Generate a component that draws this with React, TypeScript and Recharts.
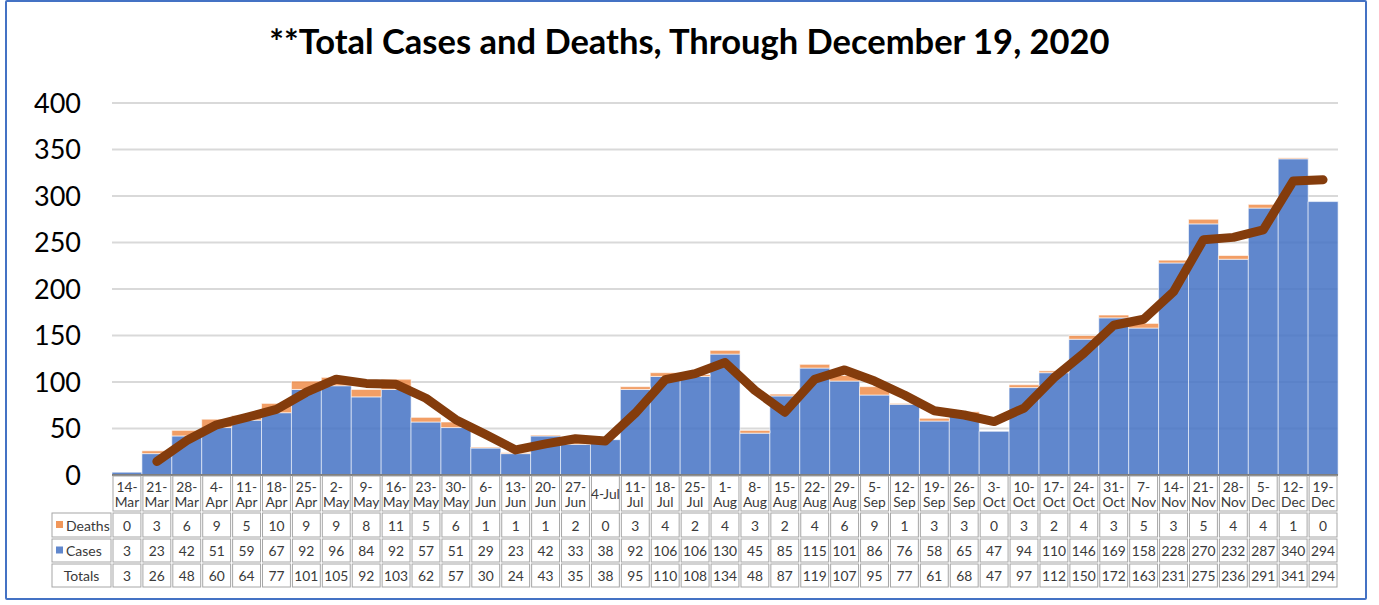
import { ComposedChart, Bar, Line, XAxis, YAxis, CartesianGrid } from 'recharts';

const categories = [
  '14-Mar', '21-Mar', '28-Mar', '4-Apr', '11-Apr', '18-Apr', '25-Apr', '2-May', '9-May', '16-May',
  '23-May', '30-May', '6-Jun', '13-Jun', '20-Jun', '27-Jun', '4-Jul', '11-Jul', '18-Jul', '25-Jul',
  '1-Aug', '8-Aug', '15-Aug', '22-Aug', '29-Aug', '5-Sep', '12-Sep', '19-Sep', '26-Sep', '3-Oct',
  '10-Oct', '17-Oct', '24-Oct', '31-Oct', '7-Nov', '14-Nov', '21-Nov', '28-Nov', '5-Dec', '12-Dec', '19-Dec',
];
const deaths = [0, 3, 6, 9, 5, 10, 9, 9, 8, 11, 5, 6, 1, 1, 1, 2, 0, 3, 4, 2, 4, 3, 2, 4, 6, 9, 1, 3, 3, 0, 3, 2, 4, 3, 5, 3, 5, 4, 4, 1, 0];
const cases = [3, 23, 42, 51, 59, 67, 92, 96, 84, 92, 57, 51, 29, 23, 42, 33, 38, 92, 106, 106, 130, 45, 85, 115, 101, 86, 76, 58, 65, 47, 94, 110, 146, 169, 158, 228, 270, 232, 287, 340, 294];
const totals = [3, 26, 48, 60, 64, 77, 101, 105, 92, 103, 62, 57, 30, 24, 43, 35, 38, 95, 110, 108, 134, 48, 87, 119, 107, 95, 77, 61, 68, 47, 97, 112, 150, 172, 163, 231, 275, 236, 291, 341, 294];
// brown trend line (2-week moving average as drawn)
const trend = [null, 14.5, 37, 54, 62, 70.5, 89, 103, 98.5, 97.5, 82.5, 59.5, 43.5, 27, 33.5, 39, 36.5, 66.5, 102.5, 109, 121, 91, 67.5, 103, 113, 101, 86, 69, 64.5, 57.5, 72, 104.5, 131, 161, 167.5, 197, 253, 255.5, 263.5, 316, 317.5];
const yTicks = [0, 50, 100, 150, 200, 250, 300, 350, 400];

const data = categories.map((week, i) => ({
  week,
  cases: cases[i],
  deaths: deaths[i],
  trend: trend[i],
}));

const FONT = 'Lato, "Open Sans", sans-serif';
const CHART_W = 1379;
const CHART_H = 605;
const M = { top: 103, right: 41, bottom: 15, left: 0 };
const Y_W = 112;
const COL_W = (CHART_W - M.left - M.right - Y_W) / categories.length;
const ROWS = [37, 26, 25, 25];
const CELL_STROKE = '#a6a6a6';
const TXT = '#3a3a3a';

const Cell = ({ x, y, w, h }: { x: number; y: number; w: number; h: number }) => (
  <rect x={x + 1} y={y + 1} width={w - 2} height={h - 2} fill="#fff" stroke={CELL_STROKE} strokeWidth={1} />
);

const TableTick = (props: any) => {
  const { x, y, payload } = props;
  const i = payload.index;
  const left = x - COL_W / 2;
  const label: string = payload.value;
  const parts = label === '4-Jul' ? [label] : [label.split('-')[0] + '-', label.split('-')[1]];
  const r1 = y + ROWS[0];
  const r2 = r1 + ROWS[1];
  const r3 = r2 + ROWS[2];
  const vals = [deaths[i], cases[i], totals[i]];
  const tops = [r1, r2, r3];
  const hdrW = 61;
  const hx = left - hdrW;
  return (
    <g fontFamily={FONT} fontSize={13.8} fill={TXT}>
      <Cell x={left} y={y} w={COL_W} h={ROWS[0]} />
      {parts.length === 1 ? (
        <text x={x} y={y + ROWS[0] / 2} textAnchor="middle" dominantBaseline="central" fill={TXT}>{parts[0]}</text>
      ) : (
        <>
          <text x={x} y={y + 11} textAnchor="middle" dominantBaseline="central" fill={TXT}>{parts[0]}</text>
          <text x={x} y={y + 26} textAnchor="middle" dominantBaseline="central" fill={TXT}>{parts[1]}</text>
        </>
      )}
      {vals.map((v, k) => (
        <g key={k}>
          <Cell x={left} y={tops[k]} w={COL_W} h={ROWS[k + 1]} />
          <text x={x} y={tops[k] + ROWS[k + 1] / 2} textAnchor="middle" dominantBaseline="central" fill={TXT}>{v}</text>
        </g>
      ))}
      {i === 0 && (
        <g fontSize={14}>
          <Cell x={hx} y={r1} w={hdrW} h={ROWS[1]} />
          <rect x={hx + 5} y={r1 + ROWS[1] / 2 - 4} width={7} height={7} fill="#ED7D31" fillOpacity={0.8} />
          <text x={hx + 15} y={r1 + ROWS[1] / 2} dominantBaseline="central" fill={TXT}>Deaths</text>
          <Cell x={hx} y={r2} w={hdrW} h={ROWS[2]} />
          <rect x={hx + 5} y={r2 + ROWS[2] / 2 - 4} width={7} height={7} fill="#4472C4" fillOpacity={0.85} />
          <text x={hx + 15} y={r2 + ROWS[2] / 2} dominantBaseline="central" fill={TXT}>Cases</text>
          <Cell x={hx} y={r3} w={hdrW} h={ROWS[3]} />
          <text x={hx + hdrW / 2} y={r3 + ROWS[3] / 2} textAnchor="middle" dominantBaseline="central" fill={TXT}>Totals</text>
        </g>
      )}
    </g>
  );
};

export default function App() {
  return (
    <div style={{ position: 'absolute', left: 0, top: 0, width: CHART_W, height: CHART_H, background: '#fff' }}>
      <div
        style={{
          position: 'absolute', left: 5, top: 0, width: 1362, height: 600,
          border: '2px solid #4472C4', borderRadius: 2, boxSizing: 'border-box',
        }}
      />
      <div
        style={{
          position: 'absolute', left: 0, top: 21, width: CHART_W, textAlign: 'center',
          fontFamily: FONT, fontWeight: 700, fontSize: 34.5, color: '#000', lineHeight: '40px',
        }}
      >
        **Total Cases and Deaths, Through December 19, 2020
      </div>
      <ComposedChart width={CHART_W} height={CHART_H} data={data} margin={M} barCategoryGap={0} barGap={0}>
        <CartesianGrid vertical={false} stroke="#d9d9d9" strokeWidth={2} />
        <YAxis
          domain={[0, 400]}
          ticks={yTicks}
          width={Y_W}
          axisLine={false}
          tickLine={false}
          tickMargin={25}
          tick={{ fontSize: 27, fill: '#000', fontFamily: FONT }}
        />
        <XAxis
          dataKey="week"
          height={CHART_H - M.top - M.bottom - 372}
          interval={0}
          tickSize={0}
          tickMargin={0}
          axisLine={{ stroke: '#7f7f7f', strokeWidth: 2 }}
          tick={<TableTick />}
        />
        <Bar dataKey="cases" stackId="a" fill="#4472C4" fillOpacity={0.85} stroke="#ffffff" strokeOpacity={0.6} strokeWidth={1} isAnimationActive={false} />
        <Bar dataKey="deaths" stackId="a" fill="#ED7D31" fillOpacity={0.75} stroke="#ffffff" strokeOpacity={0.6} strokeWidth={1} isAnimationActive={false} />
        <Line
          dataKey="trend"
          type="linear"
          stroke="#843C0C"
          strokeWidth={9}
          strokeLinecap="round"
          strokeLinejoin="round"
          dot={false}
          activeDot={false}
          isAnimationActive={false}
        />
      </ComposedChart>
    </div>
  );
}
